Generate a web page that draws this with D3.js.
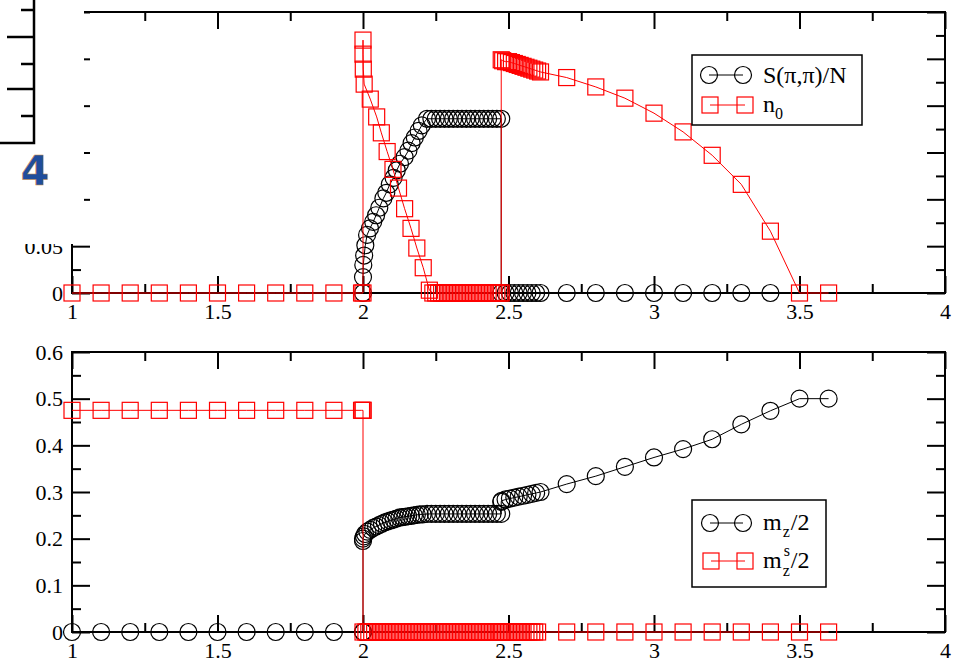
<!DOCTYPE html>
<html>
<head>
<meta charset="utf-8">
<script src="https://cdn.jsdelivr.net/npm/d3@7"></script>
<style>
  body { margin: 0; background: #fff; }
  svg text { font-family: "Liberation Serif", "Times New Roman", serif; }
</style>
</head>
<body>
<svg id="chart" width="965" height="662"></svg>
<script>
// ticks (shared x, one set per panel for y)
var xMajor = [1, 1.5, 2, 2.5, 3, 3.5, 4];
var xMinor = [1.25, 1.75, 2.25, 2.75, 3.25, 3.75];
var topMajor = [0, 0.05, 0.1, 0.15, 0.2, 0.25, 0.3];
var topMinor = [0.025, 0.075, 0.125, 0.175, 0.225, 0.275];
var topLabels = ['0', '0.05'];   // the rest are hidden under the pasted fragment
var botMajor = [0, 0.1, 0.2, 0.3, 0.4, 0.5, 0.6];
var botMinor = [0.05, 0.15, 0.25, 0.35, 0.45, 0.55];

// top panel : S(pi,pi)/N
var sX = [2.0, 2.0, 2.001, 2.004, 2.008, 2.014, 2.024, 2.035, 2.045, 2.056, 2.07, 2.08, 2.092, 2.105, 2.116, 2.127,
  2.143, 2.156, 2.167, 2.178, 2.191, 2.202, 2.22,
  2.235, 2.25, 2.265, 2.28, 2.295, 2.31, 2.325, 2.34, 2.355, 2.37, 2.385, 2.4, 2.415, 2.43, 2.445, 2.46, 2.475,
  2.475, 2.49, 2.505, 2.52, 2.535, 2.55, 2.565, 2.58, 2.595, 2.61,
  2.7, 2.8, 2.9, 3.0, 3.1, 3.2, 3.3, 3.4];
var sY = [0, 0.017, 0.030, 0.040, 0.051, 0.062, 0.069, 0.076, 0.083, 0.091, 0.101, 0.107, 0.116, 0.123, 0.131, 0.138,
  0.145, 0.152, 0.160, 0.166, 0.173, 0.179, 0.186,
  0.186, 0.186, 0.186, 0.186, 0.186, 0.186, 0.186, 0.186, 0.186, 0.186, 0.186, 0.186, 0.186, 0.186, 0.186, 0.186, 0.186,
  0, 0, 0, 0, 0, 0, 0, 0, 0, 0,
  0, 0, 0, 0, 0, 0, 0, 0];

// top panel : n0
var nX = [1.0, 1.1, 1.2, 1.3, 1.4, 1.5, 1.6, 1.7, 1.8, 1.9, 1.995, 2.0,
  2.0, 2.0, 2.001, 2.004, 2.025, 2.047, 2.063, 2.083, 2.103, 2.122, 2.143, 2.165, 2.185, 2.207, 2.228,
  2.24, 2.25, 2.26, 2.27, 2.28, 2.29, 2.3, 2.31, 2.32, 2.33, 2.34, 2.35, 2.36, 2.37, 2.38, 2.39, 2.4, 2.41, 2.42,
  2.43, 2.44, 2.45, 2.46, 2.47, 2.475,
  2.475, 2.48, 2.49, 2.5, 2.51, 2.52, 2.53, 2.54, 2.55, 2.56, 2.57, 2.58, 2.59, 2.6, 2.61,
  2.7, 2.8, 2.9, 3.0, 3.1, 3.2, 3.3, 3.4, 3.5, 3.6];
var nY = [0, 0, 0, 0, 0, 0, 0, 0, 0, 0, 0, 0,
  0.270, 0.255, 0.239, 0.223, 0.207, 0.188, 0.171, 0.151, 0.132, 0.112, 0.090, 0.069, 0.048, 0.027, 0.003,
  0, 0, 0, 0, 0, 0, 0, 0, 0, 0, 0, 0, 0, 0, 0, 0, 0, 0, 0,
  0, 0, 0, 0, 0, 0,
  0.249, 0.248, 0.247, 0.247, 0.246, 0.245, 0.244, 0.243, 0.242, 0.241, 0.240, 0.239, 0.238, 0.237, 0.236,
  0.230, 0.220, 0.208, 0.192, 0.172, 0.147, 0.116, 0.066, 0, 0];

// bottom panel : m_z/2
var mzX = [1.0, 1.1, 1.2, 1.3, 1.4, 1.5, 1.6, 1.7, 1.8, 1.9, 2.0, 2.0,
  2.0, 2.0, 2.003, 2.007, 2.015, 2.025, 2.035, 2.045, 2.055, 2.065, 2.075, 2.085, 2.095, 2.105, 2.115, 2.125,
  2.135, 2.145, 2.155, 2.165, 2.175, 2.185, 2.195, 2.205, 2.22,
  2.235, 2.25, 2.265, 2.28, 2.295, 2.31, 2.325, 2.34, 2.355, 2.37, 2.385, 2.4, 2.415, 2.43, 2.445, 2.46, 2.475,
  2.475, 2.476, 2.49, 2.505, 2.52, 2.535, 2.55, 2.565, 2.58, 2.595, 2.61,
  2.7, 2.8, 2.9, 3.0, 3.1, 3.2, 3.3, 3.4, 3.5, 3.6];
var mzY = [0, 0, 0, 0, 0, 0, 0, 0, 0, 0, 0, 0,
  0.195, 0.200, 0.205, 0.210, 0.215, 0.219, 0.223, 0.226, 0.229, 0.232, 0.235, 0.237, 0.239, 0.241, 0.243, 0.245,
  0.246, 0.247, 0.248, 0.249, 0.250, 0.251, 0.252, 0.252, 0.253,
  0.253, 0.253, 0.253, 0.253, 0.253, 0.253, 0.253, 0.253, 0.253, 0.253, 0.253, 0.253, 0.253, 0.253, 0.253, 0.253, 0.253,
  0.279, 0.281, 0.284, 0.286, 0.288, 0.290, 0.292, 0.294, 0.296, 0.298, 0.300,
  0.317, 0.334, 0.354, 0.374, 0.392, 0.413, 0.445, 0.474, 0.500, 0.500];

// bottom panel : m_z^s/2
var mzsX = [1.0, 1.1, 1.2, 1.3, 1.4, 1.5, 1.6, 1.7, 1.8, 1.9, 1.995, 2.0, 2.0,
  2.0, 2.01, 2.02, 2.03, 2.04, 2.05, 2.06, 2.07, 2.08, 2.09, 2.1, 2.11, 2.12, 2.13, 2.14, 2.15, 2.16, 2.17, 2.18, 2.19,
  2.2, 2.21, 2.22, 2.23, 2.24, 2.25, 2.26, 2.27, 2.28, 2.29, 2.3, 2.31, 2.32, 2.33, 2.34, 2.35, 2.36, 2.37, 2.38, 2.39,
  2.4, 2.41, 2.42, 2.43, 2.44, 2.45, 2.46, 2.47, 2.475, 2.48, 2.49, 2.5, 2.51, 2.52, 2.53, 2.54, 2.55, 2.56, 2.57, 2.58,
  2.59, 2.6, 2.7, 2.8, 2.9, 3.0, 3.1, 3.2, 3.3, 3.4, 3.5, 3.6];
var mzsY = [0.475, 0.475, 0.475, 0.475, 0.475, 0.475, 0.475, 0.475, 0.475, 0.475, 0.475, 0.475, 0.475,
  0, 0, 0, 0, 0, 0, 0, 0, 0, 0, 0, 0, 0, 0, 0, 0, 0, 0, 0, 0,
  0, 0, 0, 0, 0, 0, 0, 0, 0, 0, 0, 0, 0, 0, 0, 0, 0, 0, 0, 0,
  0, 0, 0, 0, 0, 0, 0, 0, 0, 0, 0, 0, 0, 0, 0, 0, 0, 0, 0, 0,
  0, 0, 0, 0, 0, 0, 0, 0, 0, 0, 0, 0];

var svg = d3.select('#chart');

var x = d3.scaleLinear().domain([1, 4]).range([72, 945]);
var yTop = d3.scaleLinear().domain([0, 0.3]).range([293, 12]);
var yBot = d3.scaleLinear().domain([0, 0.6]).range([632, 352]);

function fmt(d) { return d === 0 ? '0' : String(+d.toFixed(3)); }
function fmtTop(d) { var s = fmt(d); return topLabels.indexOf(s) >= 0 ? s : ''; }

// frame + inward ticks, xmgrace style
function drawFrame(y, yMajor, yMinor, yFmt) {
  var g = svg.append('g').attr('class', 'frame');
  var x0 = x.range()[0], x1 = x.range()[1];
  var y0 = y.range()[0], y1 = y.range()[1];

  g.append('g').attr('transform', 'translate(0,' + y0 + ')')
    .call(d3.axisBottom(x).tickValues(xMajor).tickSize(-17).tickSizeOuter(0).tickPadding(10).tickFormat(fmt));
  g.append('g').attr('transform', 'translate(0,' + y0 + ')')
    .call(d3.axisBottom(x).tickValues(xMinor).tickSize(-9).tickSizeOuter(0).tickFormat(''));
  g.append('g').attr('transform', 'translate(0,' + y1 + ')')
    .call(d3.axisTop(x).tickValues(xMajor).tickSize(-17).tickSizeOuter(0).tickFormat(''));
  g.append('g').attr('transform', 'translate(0,' + y1 + ')')
    .call(d3.axisTop(x).tickValues(xMinor).tickSize(-9).tickSizeOuter(0).tickFormat(''));

  g.append('g').attr('transform', 'translate(' + x0 + ',0)')
    .call(d3.axisLeft(y).tickValues(yMajor).tickSize(-18).tickSizeOuter(0).tickPadding(9).tickFormat(yFmt));
  g.append('g').attr('transform', 'translate(' + x0 + ',0)')
    .call(d3.axisLeft(y).tickValues(yMinor).tickSize(-9).tickSizeOuter(0).tickFormat(''));
  g.append('g').attr('transform', 'translate(' + x1 + ',0)')
    .call(d3.axisRight(y).tickValues(yMajor).tickSize(-18).tickSizeOuter(0).tickFormat(''));
  g.append('g').attr('transform', 'translate(' + x1 + ',0)')
    .call(d3.axisRight(y).tickValues(yMinor).tickSize(-9).tickSizeOuter(0).tickFormat(''));

  g.selectAll('.domain').remove();
  g.selectAll('.tick text').filter(function() { return this.textContent === ''; }).remove();
  g.selectAll('.tick line').attr('stroke', '#000').attr('stroke-width', 2);
  g.selectAll('.tick text').attr('fill', '#000').style('font-size', '22px')
    .style('font-family', '"Liberation Serif", serif');

  g.append('rect')
    .attr('x', x0).attr('y', y1).attr('width', x1 - x0).attr('height', y0 - y1)
    .attr('fill', 'none').attr('stroke', '#000').attr('stroke-width', 2);
}

function drawSeries(y, xs, ys, color, shape) {
  var pts = xs.map(function(d, i) { return [x(d), y(ys[i])]; });
  svg.append('path')
    .attr('d', d3.line()(pts))
    .attr('fill', 'none').attr('stroke', color).attr('stroke-width', 1);
  var g = svg.append('g');
  if (shape === 'circle') {
    g.selectAll('circle').data(pts).enter().append('circle')
      .attr('cx', function(d) { return d[0]; })
      .attr('cy', function(d) { return d[1]; })
      .attr('r', 8.5)
      .attr('fill', 'none').attr('stroke', color).attr('stroke-width', 1.2);
  } else {
    g.selectAll('rect').data(pts).enter().append('rect')
      .attr('x', function(d) { return d[0] - 8; })
      .attr('y', function(d) { return d[1] - 8; })
      .attr('width', 16).attr('height', 16)
      .attr('fill', 'none').attr('stroke', color).attr('stroke-width', 1.2);
  }
}

// little legend sample: two symbols joined by a line
function legendSample(g, x1, x2, yy, color, shape) {
  g.append('line').attr('x1', x1).attr('x2', x2).attr('y1', yy).attr('y2', yy)
    .attr('stroke', color).attr('stroke-width', 1);
  [x1, x2].forEach(function(cx) {
    if (shape === 'circle') {
      g.append('circle').attr('cx', cx).attr('cy', yy).attr('r', 8.5)
        .attr('fill', 'none').attr('stroke', color).attr('stroke-width', 1.2);
    } else {
      g.append('rect').attr('x', cx - 8).attr('y', yy - 8).attr('width', 16).attr('height', 16)
        .attr('fill', 'none').attr('stroke', color).attr('stroke-width', 1.2);
    }
  });
}

function txt(g, str, tx, ty, size) {
  return g.append('text').attr('x', tx).attr('y', ty).style('font-size', size + 'px').attr('fill', '#000').text(str);
}

/////////////// top panel ///////////////
drawFrame(yTop, topMajor, topMinor, fmtTop);
drawSeries(yTop, sX, sY, '#000', 'circle');
drawSeries(yTop, nX, nY, '#ff0000', 'square');

var lg1 = svg.append('g');
lg1.append('rect').attr('x', 692).attr('y', 55).attr('width', 170).attr('height', 70)
  .attr('fill', '#fff').attr('stroke', '#000').attr('stroke-width', 1.5);
legendSample(lg1, 709, 743, 75, '#000', 'circle');
legendSample(lg1, 710, 745, 105, '#ff0000', 'square');
txt(lg1, 'S(\u03c0,\u03c0)/N', 763, 83, 24);
txt(lg1, 'n', 763, 112, 24);
txt(lg1, '0', 775, 119, 16);

/////////////// bottom panel ///////////////
drawFrame(yBot, botMajor, botMinor, fmt);
drawSeries(yBot, mzX, mzY, '#000', 'circle');
drawSeries(yBot, mzsX, mzsY, '#ff0000', 'square');

var lg2 = svg.append('g');
lg2.append('rect').attr('x', 692).attr('y', 500).attr('width', 134).attr('height', 87)
  .attr('fill', '#fff').attr('stroke', '#000').attr('stroke-width', 1.5);
legendSample(lg2, 710, 743, 523, '#000', 'circle');
legendSample(lg2, 711, 745, 561, '#ff0000', 'square');

var m1 = txt(lg2, 'm', 763, 530, 24);
var mW = m1.node().getComputedTextLength();
var z1 = txt(lg2, 'z', 763 + mW + 1, 537, 16);
txt(lg2, '/2', 763 + mW + 2 + z1.node().getComputedTextLength(), 530, 24);

txt(lg2, 'm', 763, 568, 24);
txt(lg2, 's', 763 + mW + 2, 556, 16);
var z2 = txt(lg2, 'z', 763 + mW + 1, 576, 16);
txt(lg2, '/2', 763 + mW + 2 + z2.node().getComputedTextLength(), 568, 24);

/////////////// pasted fragment over the top-left corner ///////////////
var ov = svg.append('g');
ov.append('rect').attr('x', 0).attr('y', 0).attr('width', 84).attr('height', 244).attr('fill', '#fff');
ov.append('path').attr('d', 'M34,0V143H0').attr('fill', 'none').attr('stroke', '#000').attr('stroke-width', 2.5);
[[10, 21], [37, 7], [64, 21], [89, 7], [116, 21]].forEach(function(t) {
  ov.append('line').attr('x1', t[1]).attr('x2', 34).attr('y1', t[0]).attr('y2', t[0])
    .attr('stroke', '#000').attr('stroke-width', 2.5);
});
ov.append('text').attr('x', 35).attr('y', 185).attr('text-anchor', 'middle')
  .style('font-family', '"DejaVu Sans", sans-serif').style('font-size', '41px').style('font-weight', 'bold')
  .attr('fill', '#1f4d9c').attr('stroke', '#c98a3a').attr('stroke-width', 0.5).text('4');
</script>
</body>
</html>
